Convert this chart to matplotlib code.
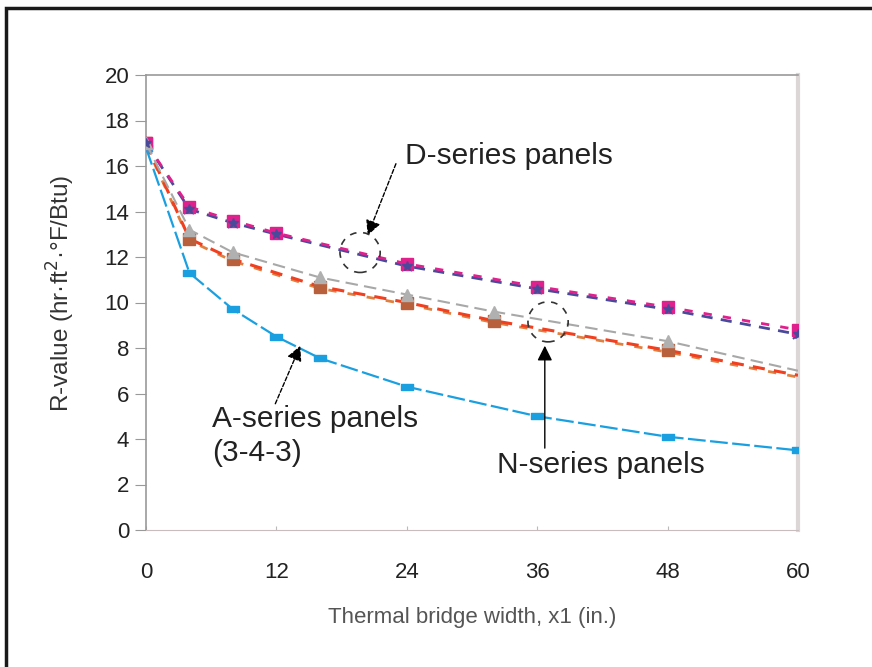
import matplotlib
matplotlib.use("Agg")
import matplotlib.pyplot as plt
from matplotlib.patches import Ellipse, Rectangle
from matplotlib.path import Path

plt.rcParams['font.family'] = ['Liberation Sans', 'DejaVu Sans']

# Thermal bridge widths (in.) and R-values for each panel series
x_d = [0, 4, 8, 12, 24, 36, 48, 60]
d_series_1 = [17.0, 14.2, 13.6, 13.05, 11.7, 10.7, 9.8, 8.8]
d_series_2 = [17.0, 14.1, 13.5, 13.0, 11.6, 10.6, 9.7, 8.6]

x_n = [0, 4, 8, 16, 24, 32, 48, 60]
n_series_1 = [17.0, 12.8, 11.9, 10.7, 10.0, 9.2, 7.9, 6.8]
n_series_2 = [17.0, 13.2, 12.2, 11.1, 10.35, 9.6, 8.3, 7.0]

x_a = [0, 4, 8, 12, 16, 24, 36, 48, 60]
a_series = [16.8, 11.3, 9.7, 8.5, 7.55, 6.3, 5.0, 4.1, 3.5]

x_ticks = [0, 12, 24, 36, 48, 60]
y_ticks = list(range(0, 21, 2))

fig = plt.figure(figsize=(8.72, 6.67), dpi=100)
ax = fig.add_axes([146/872, 1-530/667, 652/872, 455/667])

# flat rectangle marker for the A-series
bar = Path([(-1, -0.45), (1, -0.45), (1, 0.45), (-1, 0.45), (-1, -0.45)],
           [Path.MOVETO, Path.LINETO, Path.LINETO, Path.LINETO, Path.CLOSEPOLY])

# D-series: two interleaved dashed lines
ax.plot(x_d, d_series_2, color='#4a4a9a', lw=2, dashes=(4, 3),
        marker='x', ms=7, mew=1.5, zorder=3)
ax.plot(x_d, d_series_1, color='#e0208c', lw=2, dashes=(3, 4),
        marker='s', ms=9, mec='#e0208c', zorder=4)
ax.plot(x_d, d_series_2, color='#4a4a9a', lw=0, marker='*', ms=7, zorder=5)

# N-series
ax.plot(x_n, n_series_1, color='#f04020', lw=2.2, dashes=(4, 3),
        marker='s', ms=9, mfc='#b8603c', mec='#b8603c', markevery=range(7), zorder=3)
ax.plot(x_n, [v - 0.08 for v in n_series_1], color='#e08040', lw=2, dashes=(3, 4),
        zorder=2)
ax.plot(x_n, n_series_2, color='#a8a8a8', lw=1.5, dashes=(6, 3),
        marker='^', ms=9, mfc='#b0b0b0', mec='#b0b0b0', markevery=range(7), zorder=4)

# A-series (3-4-3)
ax.plot(x_a, a_series, color='#1aa0e0', lw=1.6, dashes=(8, 2),
        marker=bar, ms=9, mfc='#1aa0e0', mec='#1aa0e0', zorder=3)

ax.set_xlim(0, 60)
ax.set_ylim(0, 20)
ax.set_xticks(x_ticks)
ax.set_yticks(y_ticks)
ax.tick_params(axis='y', direction='out', length=8, color='#999999', labelsize=16,
               pad=4, labelcolor='#222222')
ax.tick_params(axis='x', direction='in', length=3, color='#bbbbbb', labelsize=16,
               pad=23, labelcolor='#222222')

for side in ['left', 'top']:
    ax.spines[side].set_color('#999999')
    ax.spines[side].set_linewidth(1.2)
ax.spines['bottom'].set_color('#c8bcbc')
ax.spines['bottom'].set_linestyle((0, (2, 1)))
ax.spines['right'].set_color('#ddd6d6')
ax.spines['right'].set_linewidth(3)

ax.set_ylabel('R-value (hr·ft$^2$·°F/Btu)', fontsize=17.5, color='#333333')
ax.yaxis.set_label_coords(-0.13, 0.52)
ax.yaxis.label.set_va('center')
ax.set_xlabel('Thermal bridge width, x1 (in.)', fontsize=16, color='#555555')
ax.xaxis.set_label_coords(0.5, -0.193)
ax.xaxis.label.set_va('center')

# callouts
arrow = dict(arrowstyle='-|>,head_length=0.9,head_width=0.45', color='black',
             lw=1, linestyle=(0, (3, 1.5)), shrinkA=0, shrinkB=0)
ax.text(23.8, 16.45, 'D-series panels', fontsize=21.5, va='center', ha='left', color='#222222')
ax.annotate('', xy=(20.4, 12.95), xytext=(23.0, 16.1), arrowprops=arrow)
ax.add_patch(Ellipse((19.7, 12.2), 3.7, 1.76, fill=False, ec='#333333', lw=1.2,
                     ls=(0, (4, 4)), zorder=6))

ax.text(32.3, 2.85, 'N-series panels', fontsize=21.5, va='center', ha='left', color='#222222')
ax.annotate('', xy=(36.7, 8.1), xytext=(36.7, 3.6),
            arrowprops=dict(arrow, linestyle='-'))
ax.add_patch(Ellipse((37.0, 9.15), 3.7, 1.76, fill=False, ec='#333333', lw=1.2,
                     ls=(0, (4, 4)), zorder=6))

ax.text(6.1, 4.9, 'A-series panels', fontsize=21.5, va='center', ha='left', color='#222222')
ax.text(6.1, 3.4, '(3-4-3)', fontsize=21.5, va='center', ha='left', color='#222222')
ax.annotate('', xy=(14.2, 8.1), xytext=(11.9, 5.55), arrowprops=arrow)

# outer frame
fig.add_artist(Rectangle((6/872, -0.1), 1.2, 1 - 8/667 + 0.1, transform=fig.transFigure,
                         fill=False, ec='#1a1a1a', lw=2.5))

fig.savefig('out.png', dpi=100)
